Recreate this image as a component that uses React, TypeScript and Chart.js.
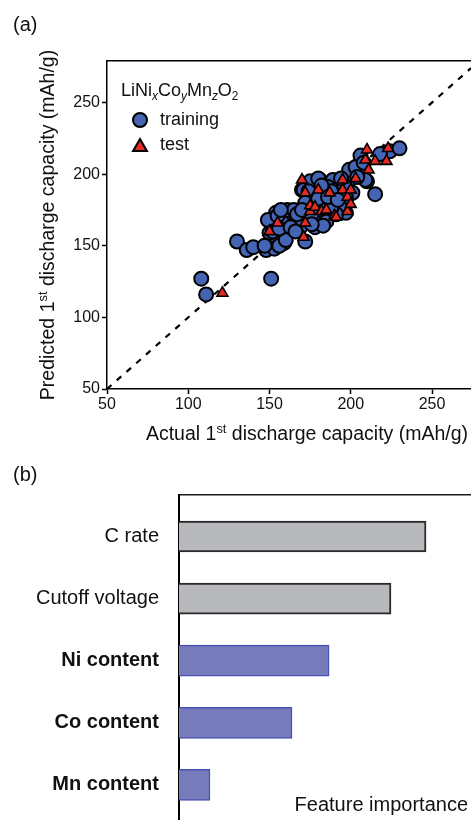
import React, { useEffect, useRef } from 'react';
import { Chart, registerables } from 'chart.js';

Chart.register(...registerables);

const FONT = '"Liberation Sans", Arial, Helvetica, sans-serif';
Chart.defaults.font.family = FONT;
Chart.defaults.color = '#111';

// ---- (a) parity plot data ----
const trainingActual = [
  108, 111, 130, 136, 140, 148, 151, 151, 154, 159, 164, 160, 161, 159, 152, 150, 153, 156, 149, 158,
  152, 160, 155, 167, 169, 172, 173, 169, 170, 175, 181, 189, 186, 178, 182, 179, 178, 185, 191, 197,
  193, 201, 199, 199, 203, 206, 210, 215, 208, 220, 224, 230, 218, 209, 204, 180, 171, 179, 188, 197,
  193, 185, 161, 177, 185, 191, 183, 175, 176, 188, 196, 182, 174, 165, 167, 172, 157, 183, 194, 147,
  156, 163, 170, 166, 176, 180, 186, 192,
];
const trainingPredicted = [
  127, 116, 153, 147, 149, 147, 127, 167, 173, 173, 170, 167, 159, 152, 154, 159, 148, 150, 168, 166,
  160, 154, 171, 168, 163, 153, 175, 168, 189, 195, 196, 196, 191, 182, 177, 168, 163, 170, 179, 173,
  185, 187, 196, 203, 205, 213, 195, 186, 208, 214, 216, 218, 214, 196, 198, 197, 189, 186, 188, 184,
  178, 179, 175, 168, 167, 172, 185, 180, 172, 176, 192, 192, 188, 175, 172, 180, 175, 164, 197, 150,
  162, 163, 175, 160, 165, 183, 184, 182,
];
const testActual = [
  121, 150, 155, 170, 171, 172, 172, 175, 175, 178, 180, 182, 185, 187, 190, 191, 195, 195, 198, 198,
  200, 200, 203, 209, 210, 211, 215, 222, 223,
];
const testPredicted = [
  117, 160, 166, 196, 156, 166, 187, 174, 178, 177, 189, 174, 175, 187, 171, 170, 196, 189, 174, 184,
  189, 179, 197, 210, 217, 203, 209, 209, 218,
];
const parityLine = [50, 274];

// ---- (b) feature importance data ----
const features = ['C rate', 'Cutoff voltage', 'Ni content', 'Co content', 'Mn content'];
const importance = [0.846, 0.726, 0.514, 0.387, 0.106];
const boldFeature = [false, false, true, true, true];

const BLUE = '#4464b4';
const RED = '#e62a24';
const GRAY_BAR = '#b8b9bc';
const GRAY_EDGE = '#2a2a2a';
const BLUE_BAR = '#777bbb';
const BLUE_EDGE = '#4850b4';

type Seg = { t: string; sup?: boolean; sub?: boolean; italic?: boolean };

function drawRich(ctx: CanvasRenderingContext2D, segs: Seg[], x: number, y: number, size: number, align: 'left' | 'center' | 'right') {
  const fontFor = (s: Seg) => `${s.italic ? 'italic ' : ''}${s.sup || s.sub ? size * 0.66 : size}px ${FONT}`;
  let w = 0;
  const widths = segs.map((s) => {
    ctx.font = fontFor(s);
    const m = ctx.measureText(s.t).width;
    w += m;
    return m;
  });
  let cx = align === 'center' ? x - w / 2 : align === 'right' ? x - w : x;
  ctx.textAlign = 'left';
  ctx.textBaseline = 'alphabetic';
  segs.forEach((s, i) => {
    ctx.font = fontFor(s);
    const dy = s.sup ? -size * 0.36 : s.sub ? size * 0.24 : 0;
    ctx.fillText(s.t, cx, y + dy);
    cx += widths[i];
  });
}

const xTitle: Seg[] = [{ t: 'Actual 1' }, { t: 'st', sup: true }, { t: ' discharge capacity (mAh/g)' }];
const yTitle: Seg[] = [{ t: 'Predicted 1' }, { t: 'st', sup: true }, { t: ' discharge capacity (mAh/g)' }];
const formula: Seg[] = [
  { t: 'LiNi' }, { t: 'x', sub: true, italic: true },
  { t: 'Co' }, { t: 'y', sub: true, italic: true },
  { t: 'Mn' }, { t: 'z', sub: true, italic: true },
  { t: 'O' }, { t: '2', sub: true },
];

function triangle(ctx: CanvasRenderingContext2D, x: number, y: number, r: number) {
  ctx.beginPath();
  for (let k = 0; k < 3; k++) {
    const a = -Math.PI / 2 + (k * 2 * Math.PI) / 3;
    const px = x + Math.cos(a) * r;
    const py = y + Math.sin(a) * r;
    if (k === 0) ctx.moveTo(px, py);
    else ctx.lineTo(px, py);
  }
  ctx.closePath();
}

const zeroPad = (s: any) => {
  s.paddingLeft = 0;
  s.paddingRight = 0;
  s.paddingTop = 0;
  s.paddingBottom = 0;
};

const annotA = {
  id: 'annotA',
  afterDraw(chart: any) {
    const ctx: CanvasRenderingContext2D = chart.ctx;
    const ca = chart.chartArea;
    ctx.save();
    ctx.fillStyle = '#111';
    ctx.font = `20px ${FONT}`;
    ctx.textAlign = 'left';
    ctx.textBaseline = 'alphabetic';
    ctx.fillText('(a)', 13, 31);

    drawRich(ctx, xTitle, ca.left + 200, ca.bottom + 51, 19.5, 'center');

    ctx.save();
    ctx.translate(ca.left - 53, (ca.top + ca.bottom) / 2);
    ctx.rotate(-Math.PI / 2);
    drawRich(ctx, yTitle, 0, 0, 19.5, 'center');
    ctx.restore();

    // legend
    ctx.fillStyle = '#111';
    drawRich(ctx, formula, ca.left + 14, ca.top + 35, 18, 'left');
    ctx.beginPath();
    ctx.arc(ca.left + 33, ca.top + 59, 7, 0, Math.PI * 2);
    ctx.fillStyle = BLUE;
    ctx.fill();
    ctx.lineWidth = 2;
    ctx.strokeStyle = '#000';
    ctx.stroke();
    triangle(ctx, ca.left + 33, ca.top + 86, 8);
    ctx.fillStyle = RED;
    ctx.fill();
    ctx.lineWidth = 2;
    ctx.stroke();
    ctx.fillStyle = '#111';
    ctx.font = `18px ${FONT}`;
    ctx.textBaseline = 'middle';
    ctx.fillText('training', ca.left + 53, ca.top + 59);
    ctx.fillText('test', ca.left + 53, ca.top + 84);
    ctx.restore();
  },
};

const annotB = {
  id: 'annotB',
  afterDraw(chart: any) {
    const ctx: CanvasRenderingContext2D = chart.ctx;
    ctx.save();
    ctx.fillStyle = '#111';
    ctx.font = `20px ${FONT}`;
    ctx.textAlign = 'left';
    ctx.textBaseline = 'alphabetic';
    ctx.fillText('(b)', 13, 29);
    ctx.textAlign = 'right';
    ctx.fillText('Feature importance', 468, 359);
    ctx.restore();
  },
};

export default function App() {
  const refA = useRef<HTMLCanvasElement>(null);
  const refB = useRef<HTMLCanvasElement>(null);

  useEffect(() => {
    const trainPts = trainingActual.map((x, i) => ({ x, y: trainingPredicted[i] }));
    const testPts = testActual.map((x, i) => ({ x, y: testPredicted[i] }));

    const axisCommon = {
      grid: { drawOnChartArea: false, drawTicks: true, tickLength: 5, tickWidth: 1.5, tickColor: '#000' },
      border: { display: true, color: '#000', width: 1.5 },
    };

    const a = new Chart(refA.current as HTMLCanvasElement, {
      type: 'scatter',
      data: {
        datasets: [
          {
            label: 'test',
            data: testPts,
            pointStyle: 'triangle',
            pointRadius: 6.3,
            backgroundColor: RED,
            borderColor: '#000',
            borderWidth: 1.6,
            order: 1,
          },
          {
            label: 'training',
            data: trainPts,
            pointStyle: 'circle',
            pointRadius: 7,
            backgroundColor: BLUE,
            borderColor: '#000',
            borderWidth: 2,
            order: 2,
          },
          {
            label: 'parity',
            data: parityLine.map((v) => ({ x: v, y: v })),
            showLine: true,
            borderColor: '#000',
            borderWidth: 2.2,
            borderDash: [6, 7],
            pointRadius: 0,
            order: 3,
          },
        ],
      } as any,
      options: {
        responsive: false,
        animation: false,
        events: [],
        layout: { autoPadding: false, padding: { left: 0, top: 61, right: 0, bottom: 0 } },
        plugins: { legend: { display: false }, tooltip: { enabled: false } },
        scales: {
          x: {
            type: 'linear',
            position: 'bottom',
            offset: false,
            min: 50,
            max: 274,
            ticks: { stepSize: 50, includeBounds: false, padding: 1, color: '#111', font: { size: 16 }, maxRotation: 0 },
            ...axisCommon,
            afterFit: (s: any) => { s.height = 63; zeroPad(s); },
          },
          y: {
            type: 'linear',
            position: 'left',
            offset: false,
            min: 50,
            max: 279,
            ticks: { stepSize: 50, includeBounds: false, padding: 2, color: '#111', font: { size: 16 } },
            ...axisCommon,
            afterFit: (s: any) => { s.width = 107; zeroPad(s); },
          },
          x2: {
            type: 'linear',
            position: 'top',
            offset: false,
            min: 50,
            max: 274,
            ticks: { display: false, includeBounds: false },
            grid: { display: false, drawTicks: false },
            border: { display: true, color: '#000', width: 1.5 },
            afterFit: (s: any) => { s.height = 0; zeroPad(s); },
          },
        },
      } as any,
      plugins: [annotA],
    });

    const b = new Chart(refB.current as HTMLCanvasElement, {
      type: 'bar',
      data: {
        labels: features,
        datasets: [
          {
            data: importance.map((v, i) => ({ x: v, y: i })),
            backgroundColor: boldFeature.map((bf) => (bf ? BLUE_BAR : GRAY_BAR)),
            borderColor: boldFeature.map((bf) => (bf ? BLUE_EDGE : GRAY_EDGE)),
            borderWidth: boldFeature.map((bf) => (bf ? 1.5 : 2)),
            barThickness: 31,
            borderSkipped: 'start',
          },
        ],
      } as any,
      options: {
        indexAxis: 'y',
        responsive: false,
        animation: false,
        events: [],
        layout: { autoPadding: false, padding: { left: 0, top: 43, right: 0, bottom: 0 } },
        plugins: { legend: { display: false }, tooltip: { enabled: false } },
        scales: {
          x: { type: 'linear', min: 0, max: 1, display: false, offset: false },
          x2: {
            type: 'linear',
            position: 'top',
            offset: false,
            min: 0,
            max: 1,
            ticks: { display: false, includeBounds: false },
            grid: { display: false, drawTicks: false },
            border: { display: true, color: '#1a1a1a', width: 1.5 },
            afterFit: (s: any) => { s.height = 0; zeroPad(s); },
          },
          y: {
            type: 'linear',
            position: 'left',
            reverse: true,
            offset: false,
            min: -0.668,
            max: 4.565,
            afterBuildTicks: (s: any) => { s.ticks = features.map((_, i) => ({ value: i })); },
            ticks: {
              padding: 20,
              color: '#111',
              callback: (v: any) => features[v] ?? '',
              font: (c: any) => ({ size: 20, family: FONT, weight: c.tick && boldFeature[c.tick.value] ? 'bold' : 'normal' }),
            },
            grid: { display: false, drawTicks: false, offset: false },
            border: { display: true, color: '#000', width: 2 },
            afterFit: (s: any) => { s.width = 179; zeroPad(s); },
          },
        },
      } as any,
      plugins: [annotB],
    });

    return () => {
      a.destroy();
      b.destroy();
    };
  }, []);

  return (
    <div style={{ position: 'absolute', left: 0, top: 0, width: 471, height: 820, background: '#fff', overflow: 'hidden' }}>
      <canvas ref={refA} width={471} height={452} style={{ position: 'absolute', left: 0, top: 0 }} />
      <canvas ref={refB} width={471} height={368} style={{ position: 'absolute', left: 0, top: 452 }} />
    </div>
  );
}
